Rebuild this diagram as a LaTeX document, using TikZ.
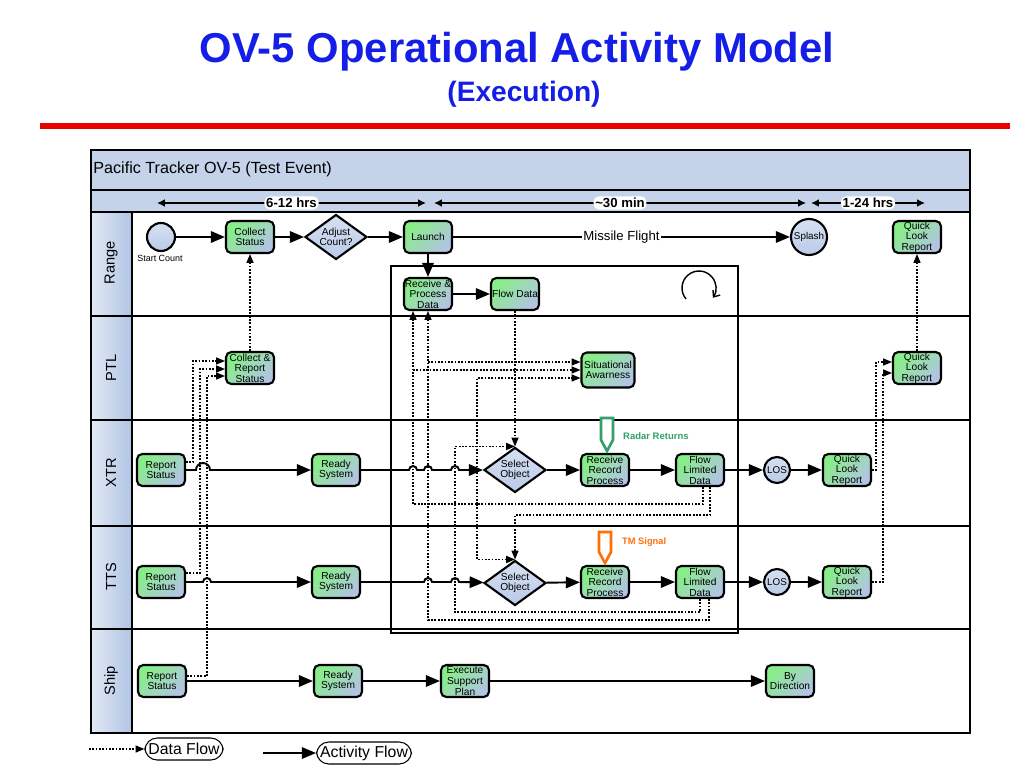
\documentclass[tikz,border=0pt]{standalone}
\usepackage{fontspec}
\setmainfont{Liberation Sans}
\usepackage{tikz}
\usetikzlibrary{arrows.meta,shapes.geometric}
\pgfdeclarelayer{background}
\pgfsetlayers{background,main}
\definecolor{titleblue}{RGB}{20,30,230}
\definecolor{rulered}{RGB}{235,0,0}
\definecolor{barblue}{RGB}{196,211,234}
\definecolor{lanelight}{RGB}{226,233,245}
\definecolor{laneblue}{RGB}{176,196,228}
\definecolor{boxgreen}{RGB}{135,238,135}
\definecolor{boxblue}{RGB}{178,196,226}
\definecolor{shapeblue}{RGB}{186,203,232}
\definecolor{radargreen}{RGB}{50,160,105}
\definecolor{tmorange}{RGB}{255,110,10}
\tikzstyle{actbox}=[rectangle,rounded corners=3pt,draw=black,line width=1.2pt,top color=boxgreen,bottom color=boxblue,shading angle=45,minimum width=0.96cm,minimum height=0.64cm,inner sep=0pt,align=center,font=\fontsize{5.8}{6}\selectfont]
\tikzstyle{decision}=[diamond,draw=black,line width=1.2pt,top color=shapeblue!60!white,bottom color=shapeblue,aspect=1.4,minimum width=1.24cm,minimum height=0.9cm,inner sep=0pt,align=center,font=\fontsize{5.8}{6}\selectfont]
\tikzstyle{event}=[circle,draw=black,line width=1.2pt,top color=shapeblue!60!white,bottom color=shapeblue,inner sep=0pt,font=\fontsize{5.6}{6}\selectfont]
\tikzstyle{actflow}=[draw,line width=1.1pt,-{Triangle[length=8pt,width=6.5pt]}]
\tikzstyle{dataflow}=[draw,line width=0.65pt,dash pattern=on 1pt off 0.9pt,-{Triangle[length=5pt,width=4pt]}]
\tikzstyle{timespan}=[draw,line width=1.6pt,{Latex[length=4.5pt,width=4.5pt]}-{Latex[length=4.5pt,width=4.5pt]}]
\tikzstyle{spanlbl}=[fill=white,rounded corners=3pt,inner sep=1pt,font=\bfseries\fontsize{7.5}{8}\selectfont]
\tikzstyle{lanesep}=[draw,line width=1.6pt]
\tikzstyle{lanelbl}=[rotate=90,font=\fontsize{8.3}{9}\selectfont]
\tikzstyle{legend}=[draw,rounded corners=7pt,line width=0.6pt,inner xsep=2pt,inner ysep=1pt,minimum height=0.44cm,font=\fontsize{9}{10}\selectfont]

\begin{document}
\begin{tikzpicture}[x=0.02cm,y=-0.02cm]
    \useasboundingbox (0,0) rectangle (1033,777);
    % Title and red rule
    \node[font=\bfseries\fontsize{23.8}{26}\selectfont,text=titleblue] (title) at (517,52) {OV-5 Operational Activity Model};
    \node[font=\bfseries\fontsize{16}{18}\selectfont,text=titleblue] (subtitle) at (524,94) {(Execution)};
    \draw[rulered,line width=3pt] (40,126) -- (1010,126);
    \node[anchor=west,inner sep=0pt,font=\fontsize{9.2}{11}\selectfont] (header) at (93,169) {Pacific Tracker OV-5 (Test Event)};
    % Lane names
    \foreach \y/\name in {263/Range, 368/PTL, 473/XTR, 577/TTS, 681/Ship}
        \node[lanelbl] (lane_\name) at (111,\y) {\name};
    % Time spans
    \coordinate (t_1) at (157,203);
    \coordinate (t_2) at (426,203);
    \coordinate (t_3) at (434,203);
    \coordinate (t_4) at (806,203);
    \coordinate (t_5) at (811,203);
    \coordinate (t_6) at (925,203);
    \path[timespan] (t_1) -- node[spanlbl] {6-12 hrs} (t_2);
    \path[timespan] (t_3) -- node[spanlbl] {\raisebox{0.3pt}{\textasciitilde}30 min} (t_4);
    \path[timespan] (t_5) -- node[spanlbl] {1-24 hrs} (t_6);
    % First we draw the activities
    \foreach \pos/\name/\txt in {{(250,237)/Range_1/Collect\\Status}, {(428,237)/Range_3/Launch},
        {(917,237)/Range_5/Quick\\Look\\Report}, {(428,294)/Range_6/Receive \&\\Process\\Data},
        {(515,294)/Range_7/Flow Data}, {(250,368)/PTL_1/Collect \&\\Report\\Status},
        {(917,368)/PTL_3/Quick\\Look\\Report},
        {(161,470)/XTR_1/Report\\Status}, {(336,470)/XTR_2/Ready\\System},
        {(605,470)/XTR_4/Receive\\Record\\Process}, {(700,470)/XTR_5/Flow\\Limited\\Data},
        {(847,470)/XTR_7/Quick\\Look\\Report},
        {(161,582)/TTS_1/Report\\Status}, {(336,582)/TTS_2/Ready\\System},
        {(605,582)/TTS_4/Receive\\Record\\Process}, {(700,582)/TTS_5/Flow\\Limited\\Data},
        {(847,582)/TTS_7/Quick\\Look\\Report},
        {(162,681)/Ship_1/Report\\Status}, {(338,681)/Ship_2/Ready\\System},
        {(465,681)/Ship_3/Execute\\Support\\Plan}, {(790,681)/Ship_4/By\\Direction}}
        \node[actbox] (\name) at \pos {\txt};
    \node[actbox,minimum width=1.06cm,minimum height=0.7cm] (PTL_2) at (608,370) {Situational\\Awarness};
    % Then the decisions and events
    \foreach \pos/\name/\txt in {{(336,237)/Range_2/Adjust\\Count?}, {(515,470)/XTR_3/Select\\Object},
        {(515,583)/TTS_3/Select\\Object}}
        \node[decision] (\name) at \pos {\txt};
    \node[event,minimum size=0.56cm] (Range_0) at (161,237) {};
    \node[font=\fontsize{5.1}{6}\selectfont] (start_lbl) at (160,258) {Start Count};
    \node[event,minimum size=0.72cm] (Range_4) at (809,237) {Splash};
    \node[event,minimum size=0.52cm] (XTR_6) at (777,470) {LOS};
    \node[event,minimum size=0.52cm] (TTS_6) at (777,582) {LOS};
    % Activity flow
    \path[actflow] (Range_3) -- node[fill=white,inner sep=1pt,font=\fontsize{7.5}{8}\selectfont] {Missile Flight} (Range_4);
    \foreach \source/\dest in {Range_0/Range_1, Range_1/Range_2, Range_2/Range_3, Range_3/Range_6, Range_6/Range_7,
        XTR_3/XTR_4, XTR_4/XTR_5, XTR_5/XTR_6, XTR_6/XTR_7,
        TTS_3/TTS_4, TTS_4/TTS_5, TTS_5/TTS_6, TTS_6/TTS_7,
        Ship_1/Ship_2, Ship_2/Ship_3, Ship_3/Ship_4}
        \path[actflow] (\source) -- (\dest);
    \path[actflow] (XTR_1) -- (196,470) arc[start angle=180,end angle=0,radius=0.14cm] -- (XTR_2);
    \path[actflow] (XTR_2) -- (409,470) arc[start angle=180,end angle=0,radius=0.08cm]
        -- (424,470) arc[start angle=180,end angle=0,radius=0.08cm]
        -- (451,470) arc[start angle=180,end angle=0,radius=0.08cm] -- (XTR_3);
    \path[actflow] (TTS_1) -- (203,582) arc[start angle=180,end angle=0,radius=0.08cm] -- (TTS_2);
    \path[actflow] (TTS_2) -- (424,582) arc[start angle=180,end angle=0,radius=0.08cm]
        -- (451,582) arc[start angle=180,end angle=0,radius=0.08cm] -- (TTS_3);
    % Data flow
    \path[dataflow] (PTL_1) -- (Range_1);
    \path[dataflow] (XTR_1.east |- 0,462) -| (193,361) -- (PTL_1.west |- 0,361);
    \path[dataflow] (TTS_1.east |- 0,573) -| (200,369) -- (PTL_1.west |- 0,369);
    \path[dataflow] (Ship_1.east |- 0,676) -| (207,376) -- (PTL_1.west |- 0,376);
    \path[dataflow] (Range_7) -- (XTR_3);
    \path[dataflow] (XTR_5.south -| 703,0) |- (413,504) -- (Range_6.south -| 413,0);
    \path[dataflow] (XTR_5.south -| 710,0) |- (515,515) -- (TTS_3);
    \path[dataflow] (TTS_5.south -| 700,0) |- (455,612) |- (XTR_3.north);
    \path[dataflow] (TTS_5.south -| 709,0) |- (428,620) -- (Range_6.south -| 428,0);
    \coordinate (j_1) at (413,370);
    \coordinate (j_2) at (428,362);
    \coordinate (j_3) at (477,504);
    \path[dataflow] (j_1) -- (PTL_2.west |- j_1);
    \path[dataflow] (j_2) -- (PTL_2.west |- j_2);
    \path[dataflow] (j_3) |- (PTL_2.west |- 0,378);
    \path[dataflow] (j_3) |- (TTS_3.north);
    \path[dataflow] (XTR_7.east) -| (876,362) -- (PTL_3.west |- 0,362);
    \path[dataflow] (TTS_7.east) -| (883,373) -- (PTL_3.west |- 0,373);
    \path[dataflow] (PTL_3) -- (Range_5);
    % Loop sign
    \coordinate (loop_c) at (699,288);
    \draw[line width=0.8pt,-{Straight Barb[length=3pt,width=5pt]}] ([shift={(220:0.34cm)}]loop_c) arc[start angle=220,end angle=-35,radius=0.34cm];
    % Signals
    \draw[radargreen,line width=1.5pt,fill=white] (601,418) -- (613,418) -- (613,440) -- (607,451) -- (601,440) -- cycle;
    \node[anchor=west,text=radargreen,font=\bfseries\fontsize{5.4}{6}\selectfont] (radar) at (617,436) {Radar Returns};
    \draw[tmorange,line width=1.5pt,fill=white] (599,532) -- (611,532) -- (611,552) -- (605,563) -- (599,552) -- cycle;
    \node[anchor=west,text=tmorange,font=\bfseries\fontsize{5.3}{6}\selectfont] (tm) at (616,542) {TM Signal};
    % Legend
    \coordinate (lg_1) at (89,749);
    \node[legend] (lg_data) at (184,749) {Data Flow};
    \path[dataflow] (lg_1) -- (lg_data);
    \coordinate (lg_2) at (263,753);
    \node[legend] (lg_act) at (364,753) {Activity Flow};
    \path[actflow,line width=0.8pt] (lg_2) -- (lg_act);
    % Lanes go behind everything
    \begin{pgfonlayer}{background}
        \fill[barblue] (91,150) rectangle (970,212);
        \shade[left color=lanelight,right color=laneblue] (91,212) rectangle (132,733);
        \draw[lanesep] (91,150) rectangle (970,733);
        \foreach \y in {190,212,316,420,526,629}
            \draw[lanesep] (91,\y) -- (970,\y);
        \draw[lanesep] (132,212) -- (132,733);
        \draw[line width=1.3pt] (391,266) rectangle (738,633);
    \end{pgfonlayer}
\end{tikzpicture}
\end{document}
